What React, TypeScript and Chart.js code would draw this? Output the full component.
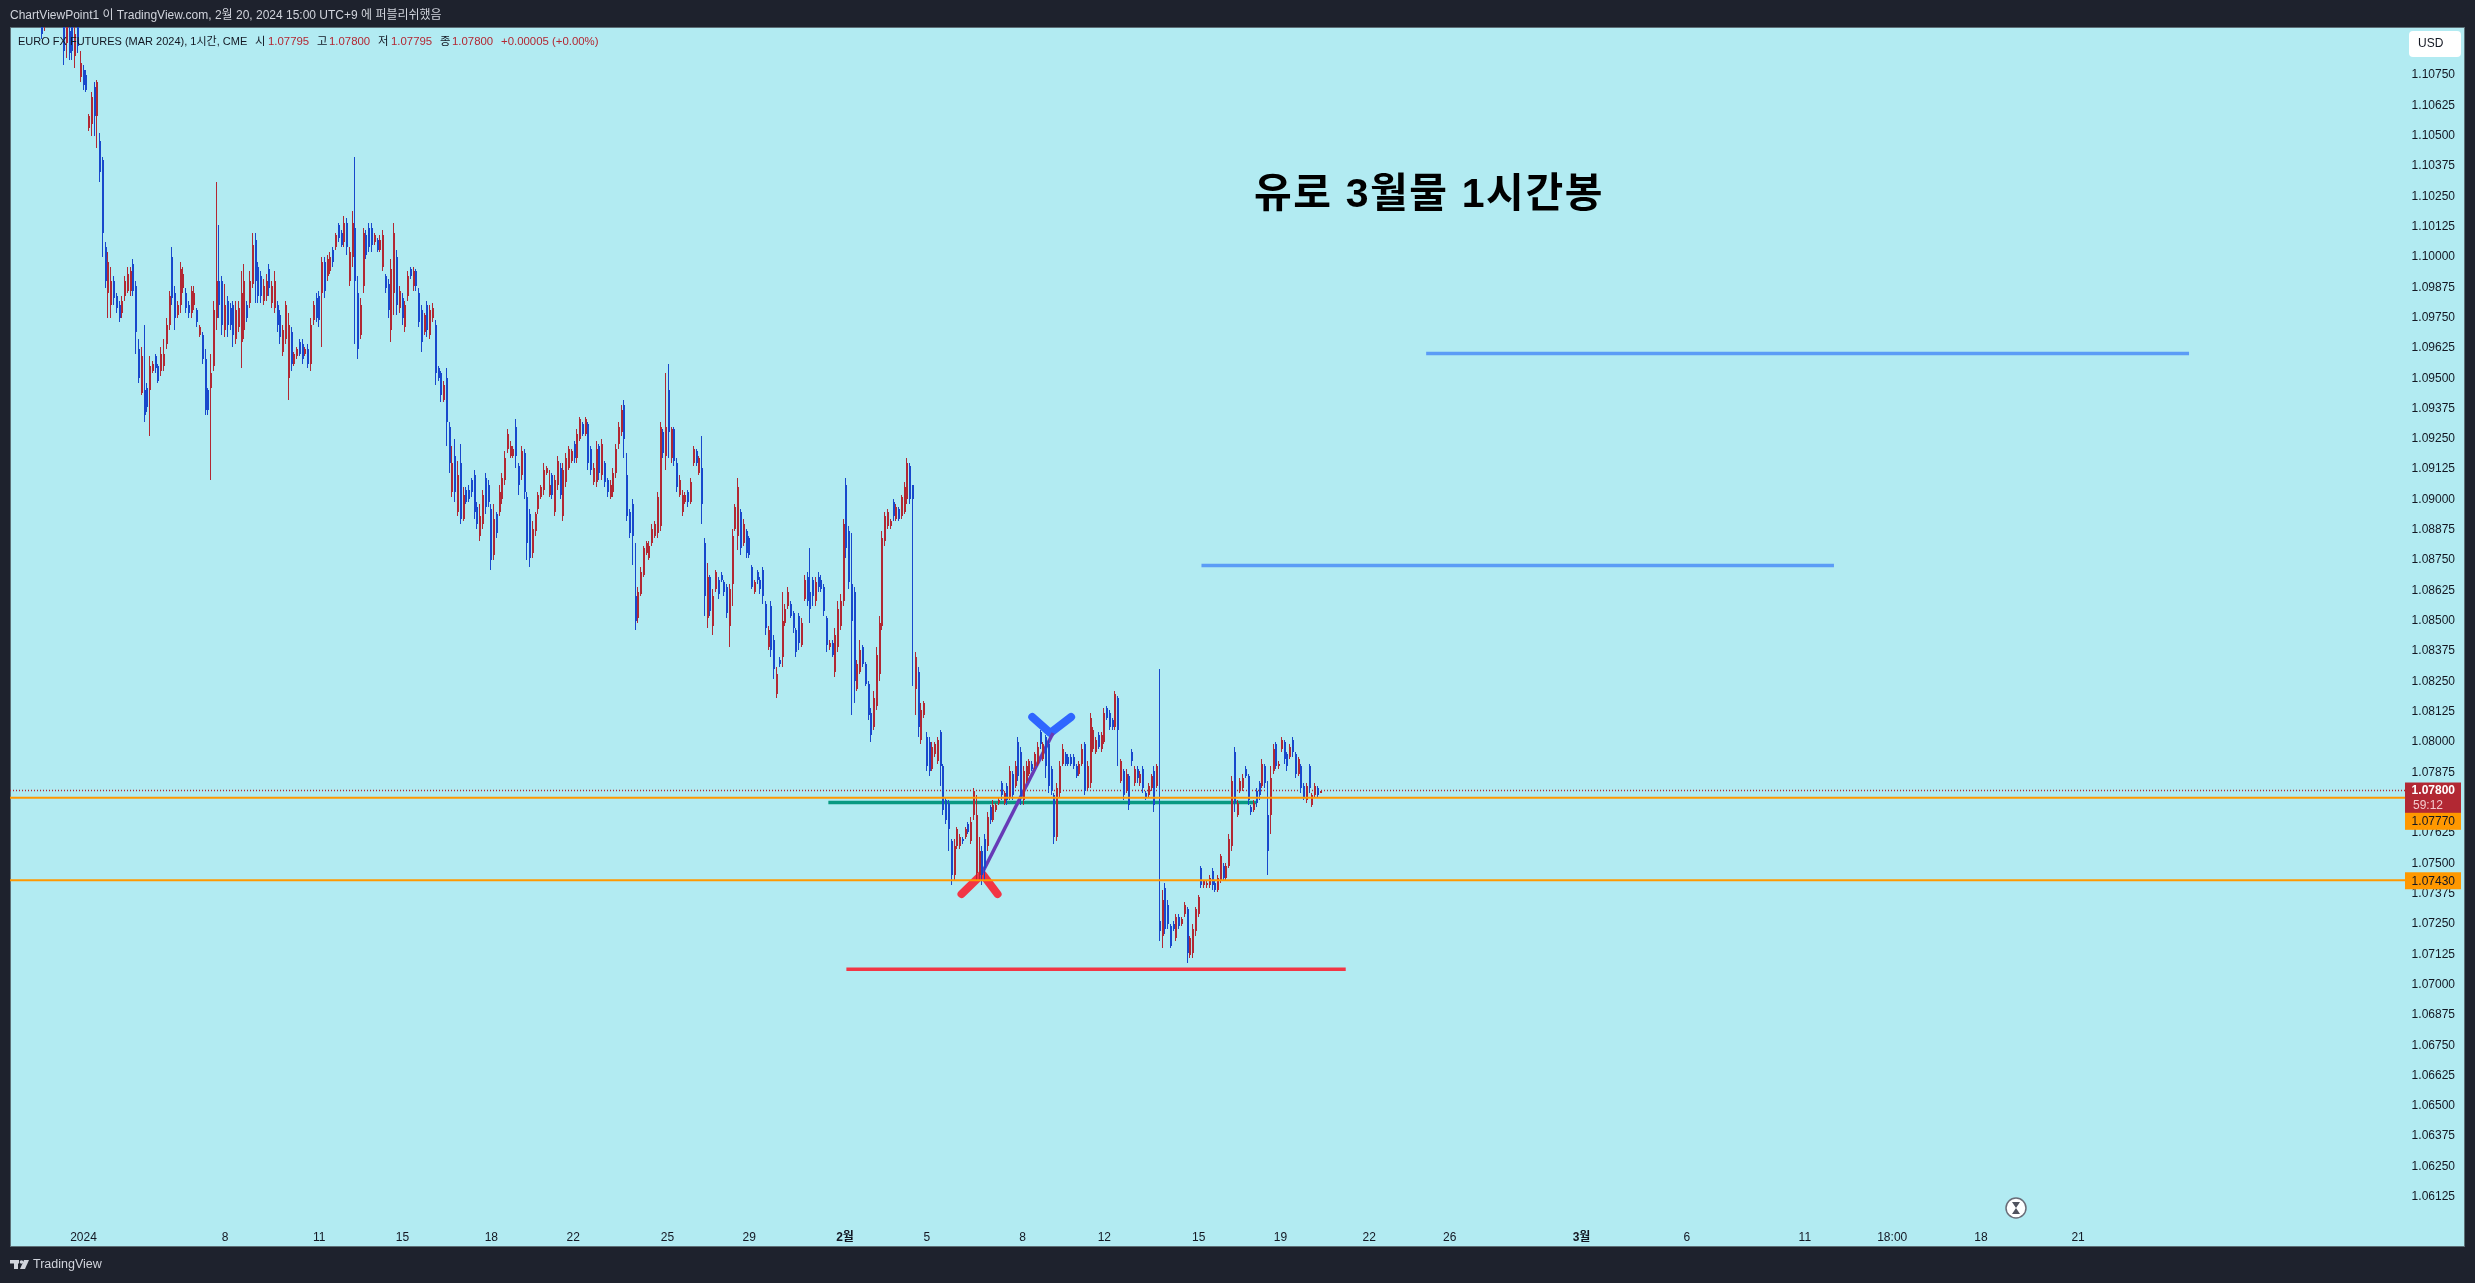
import React, { useEffect, useRef } from "react";
import { Chart, registerables } from "chart.js";

Chart.register(...registerables);

const highs = [
11120,11112,11125,11128,11130,11124,11122,11126,11115,11108,
11095,11100,11098,11104,11085,11079,11077,11059,11068,11072,
11073,11051,11041,11006,11002,10996,10992,10985,10982,10984,
10992,10996,10996,10999,10990,10966,10963,10972,10948,10959,
10957,10960,10956,10963,10966,10975,10986,11004,10988,10982,
10998,10996,10987,10982,10988,10988,10979,10972,10969,10962,
10946,10960,10982,11031,11013,10992,10989,10984,10981,10982,
10982,10982,10994,10997,10982,10994,11010,11010,10998,10994,
10991,10993,10997,10990,10994,10982,10978,10972,10982,10977,
10971,10961,10963,10966,10966,10963,10964,10975,10982,10985,
10986,11000,11000,11001,11002,11004,11010,11014,11011,11017,
11016,11004,11019,11041,10992,10983,11012,11011,11014,11014,
11010,11008,11009,11011,10993,10991,10999,11014,11003,10988,
10985,10982,10994,10996,10996,10995,10987,10980,10977,10982,
10980,10981,10974,10955,10953,10949,10954,10932,10922,10925,
10916,10923,10905,10905,10906,10909,10912,10899,10898,10904,
10911,10908,10898,10898,10895,10906,10911,10920,10929,10924,
10922,10933,10915,10922,10921,10903,10896,10891,10895,10903,
10906,10915,10914,10912,10911,10910,10918,10915,10915,10919,
10922,10921,10924,10929,10934,10932,10934,10932,10922,10915,
10924,10923,10925,10916,10909,10908,10913,10923,10932,10939,
10941,10919,10896,10900,10882,10864,10872,10881,10883,10883,
10890,10891,10903,10932,10929,10952,10956,10930,10930,10917,
10910,10904,10903,10904,10909,10922,10921,10918,10926,10884,
10874,10869,10863,10871,10868,10870,10867,10865,10865,10888,
10898,10909,10896,10892,10888,10885,10873,10867,10871,10868,
10872,10858,10848,10858,10844,10831,10835,10862,10857,10864,
10858,10854,10847,10853,10851,10869,10870,10880,10868,10868,
10870,10869,10865,10852,10842,10842,10847,10858,10861,10892,
10909,10889,10886,10864,10834,10842,10840,10833,10825,10814,
10821,10839,10852,10887,10895,10896,10892,10900,10898,10897,
10902,10907,10917,10915,10906,10837,10831,10816,10817,10804,
10802,10800,10800,10802,10805,10791,10777,10776,10760,10760,
10765,10762,10761,10765,10767,10769,10781,10778,10761,10757,
10762,10771,10774,10776,10775,10777,10784,10780,10783,10790,
10788,10792,10802,10798,10790,10792,10793,10792,10796,10800,
10805,10800,10803,10801,10790,10779,10783,10792,10799,10796,
10795,10795,10795,10791,10792,10799,10800,10792,10812,10806,
10802,10804,10804,10814,10815,10813,10810,10821,10819,10793,
10789,10789,10787,10797,10790,10790,10788,10790,10780,10783,
10787,10790,10791,10830,10739,10742,10735,10725,10726,10729,
10729,10728,10734,10732,10720,10725,10732,10737,10749,10743,
10743,10745,10748,10743,10745,10754,10750,10750,10762,10786,
10798,10776,10785,10787,10790,10787,10774,10776,10781,10784,
10793,10791,10784,10790,10799,10800,10792,10802,10801,10796,
10799,10802,10796,10794,10791,10783,10783,10791,10779,10783,
10782,10780];

const lows = [
11090,11093,11100,11102,11108,11100,11099,11098,11079,11082,
11081,11081,11078,11084,11072,11069,11068,11052,11050,11050,
11045,11031,11000,10987,10975,10975,10980,10977,10973,10975,
10982,10985,10984,10984,10960,10948,10943,10932,10936,10926,
10952,10952,10948,10951,10953,10962,10970,10980,10970,10975,
10977,10985,10977,10975,10975,10978,10971,10967,10956,10935,
10935,10908,10953,10970,10975,10968,10967,10967,10970,10963,
10964,10969,10954,10966,10973,10979,10987,10981,10981,10981,
10980,10982,10984,10979,10977,10969,10964,10959,10964,10941,
10953,10955,10958,10959,10956,10959,10954,10953,10972,10973,
10971,10963,10983,10990,10993,10996,11003,11006,11004,11004,
11001,10988,10996,10964,10958,10966,10985,10999,11002,11002,
11005,11002,11002,10994,10985,10975,10965,10976,10976,10977,
10972,10969,10982,10991,10986,10986,10971,10961,10968,10967,
10966,10973,10947,10949,10940,10940,10922,10911,10901,10899,
10893,10890,10891,10898,10899,10901,10892,10888,10883,10888,
10894,10897,10871,10875,10884,10893,10898,10906,10919,10917,
10917,10913,10902,10908,10900,10875,10872,10876,10885,10894,
10900,10902,10910,10901,10900,10893,10904,10900,10891,10905,
10912,10915,10915,10915,10924,10926,10926,10912,10910,10906,
10905,10908,10908,10905,10901,10900,10901,10909,10921,10926,
10917,10891,10884,10873,10846,10849,10860,10868,10877,10875,
10881,10884,10884,10887,10917,10912,10917,10915,10914,10903,
10901,10893,10898,10897,10898,10914,10914,10910,10890,10852,
10847,10852,10844,10862,10859,10866,10860,10851,10839,10856,
10887,10879,10877,10881,10876,10876,10863,10861,10865,10861,
10857,10844,10838,10835,10826,10818,10831,10831,10848,10855,
10851,10845,10835,10838,10839,10858,10856,10849,10856,10856,
10862,10862,10852,10837,10838,10835,10827,10837,10846,10856,
10876,10863,10811,10816,10821,10828,10831,10823,10809,10800,
10805,10813,10825,10846,10881,10888,10888,10891,10891,10891,
10892,10894,10898,10898,10823,10811,10802,10799,10810,10788,
10786,10788,10794,10791,10782,10770,10766,10755,10741,10743,
10756,10756,10758,10760,10762,10758,10768,10743,10743,10741,
10743,10755,10766,10767,10771,10774,10776,10774,10774,10776,
10776,10781,10784,10774,10774,10783,10786,10788,10789,10790,
10797,10792,10785,10779,10778,10758,10759,10777,10790,10790,
10790,10790,10789,10785,10786,10790,10778,10780,10781,10796,
10795,10797,10796,10799,10809,10805,10805,10805,10790,10783,
10776,10779,10772,10790,10782,10783,10782,10779,10776,10777,
10780,10771,10781,10718,10715,10721,10723,10715,10722,10718,
10723,10724,10728,10709,10711,10711,10720,10728,10740,10740,
10740,10740,10739,10738,10738,10742,10743,10743,10748,10755,
10771,10769,10779,10780,10785,10774,10770,10771,10773,10776,
10781,10781,10745,10762,10787,10789,10789,10796,10791,10788,
10793,10794,10785,10786,10779,10776,10775,10779,10773,10777,
10777,10779];

const opens = [
11110,11095,11118,11106,11126,11114,11101,11120,11105,11088,
11093,11095,11083,11098,11074,11077,11075,11053,11055,11070,
11058,11048,11040,11004,10985,10980,10990,10984,10980,10977,
10984,10986,10986,10997,10988,10962,10944,10945,10946,10945,
10953,10959,10955,10953,10955,10964,10972,11000,10985,10976,
10980,10987,10985,10980,10977,10980,10978,10968,10968,10958,
10945,10946,10955,10975,10990,10990,10970,10982,10979,10980,
10966,10971,10965,10970,10980,10981,10989,11007,10996,10992,
10982,10984,10995,10981,10979,10980,10976,10961,10966,10950,
10969,10956,10959,10965,10964,10960,10962,10956,10974,10983,
10984,10985,10998,10992,10994,11003,11004,11013,11010,11006,
11014,10990,11000,11012,10985,10968,10988,11009,11012,11012,
11006,11007,11003,10996,10992,10989,10970,10985,11000,10979,
10983,10971,10984,10995,10988,10994,10985,10978,10969,10980,
10968,10975,10972,10954,10952,10941,10950,10930,10903,10918,
10895,10915,10892,10904,10904,10908,10910,10897,10885,10890,
10909,10906,10896,10877,10894,10895,10900,10908,10921,10918,
10918,10930,10914,10910,10919,10901,10894,10878,10887,10896,
10901,10904,10911,10902,10910,10895,10906,10913,10893,10907,
10913,10916,10923,10917,10925,10931,10927,10931,10921,10907,
10907,10922,10910,10915,10908,10901,10903,10911,10923,10928,
10939,10910,10895,10898,10860,10851,10861,10869,10878,10876,
10882,10885,10886,10889,10928,10918,10945,10917,10929,10915,
10902,10895,10899,10903,10899,10915,10920,10911,10913,10882,
10851,10868,10848,10863,10867,10869,10866,10864,10848,10865,
10888,10885,10895,10882,10887,10884,10872,10862,10870,10867,
10871,10857,10839,10856,10842,10820,10834,10835,10849,10856,
10857,10853,10846,10852,10840,10859,10868,10862,10867,10858,
10868,10867,10864,10851,10839,10841,10829,10839,10848,10858,
10906,10887,10865,10862,10822,10829,10839,10832,10824,10812,
10806,10815,10828,10848,10883,10889,10889,10899,10892,10896,
10893,10895,10900,10914,10906,10822,10829,10801,10811,10802,
10800,10789,10795,10792,10804,10790,10776,10775,10759,10745,
10757,10757,10760,10761,10766,10759,10770,10746,10745,10755,
10760,10757,10773,10768,10772,10775,10783,10775,10782,10777,
10787,10782,10800,10796,10776,10784,10787,10791,10790,10791,
10804,10793,10802,10799,10789,10778,10761,10779,10791,10795,
10794,10794,10794,10790,10787,10791,10799,10781,10783,10797,
10796,10803,10797,10800,10814,10812,10809,10806,10818,10784,
10788,10780,10786,10796,10783,10789,10783,10789,10779,10778,
10781,10788,10782,10726,10720,10740,10733,10724,10725,10719,
10728,10725,10729,10731,10712,10713,10722,10729,10748,10741,
10741,10741,10747,10742,10739,10743,10749,10744,10749,10757,
10796,10770,10780,10781,10789,10786,10773,10772,10780,10783,
10782,10790,10770,10770,10788,10799,10790,10797,10800,10795,
10794,10801,10795,10787,10790,10782,10776,10790,10774,10778,
10781,10779];

const closes = [
11092,11105,11104,11122,11112,11103,11118,11100,11085,11100,
11084,11085,11092,11087,11080,11071,11069,11058,11066,11058,
11072,11035,11010,10990,10998,10990,10983,10979,10975,10982,
10990,10993,10994,10986,10969,10950,10959,10935,10938,10955,
10956,10954,10949,10960,10960,10972,10984,10983,10975,10980,
10995,10993,10979,10977,10986,10985,10973,10971,10958,10937,
10937,10952,10978,10990,10980,10972,10980,10972,10972,10968,
10978,10979,10985,10990,10975,10990,11005,10990,10984,10984,
10988,10990,10987,10988,10990,10972,10967,10970,10980,10972,
10956,10960,10962,10960,10958,10962,10956,10972,10980,10975,
10974,10998,10986,10999,11000,10998,11009,11008,11005,11014,
11004,11002,11014,10990,10962,10980,11010,11001,11004,11005,
11009,11003,11007,11009,10987,10978,10995,11010,10980,10986,
10975,10980,10992,10992,10994,10988,10973,10965,10976,10970,
10978,10979,10952,10950,10943,10947,10932,10915,10915,10903,
10910,10892,10902,10899,10900,10903,10895,10890,10893,10902,
10897,10899,10875,10892,10886,10903,10909,10917,10927,10922,
10921,10918,10906,10920,10903,10882,10876,10888,10894,10902,
10905,10912,10913,10906,10902,10908,10916,10902,10912,10917,
10921,10920,10917,10927,10933,10927,10933,10915,10912,10913,
10921,10911,10923,10907,10903,10906,10911,10921,10930,10937,
10925,10893,10886,10885,10850,10862,10870,10880,10882,10881,
10888,10890,10901,10930,10919,10930,10928,10929,10916,10905,
10908,10902,10902,10899,10907,10921,10915,10917,10898,10860,
10868,10854,10860,10870,10861,10867,10862,10853,10863,10885,
10897,10905,10880,10890,10878,10877,10864,10866,10867,10863,
10860,10847,10846,10838,10830,10828,10832,10850,10855,10862,
10852,10847,10837,10841,10849,10867,10858,10855,10860,10866,
10864,10863,10854,10840,10841,10836,10844,10855,10858,10890,
10880,10866,10850,10825,10832,10838,10832,10824,10811,10803,
10818,10836,10849,10884,10893,10895,10891,10893,10897,10892,
10901,10905,10915,10900,10900,10835,10806,10813,10816,10790,
10788,10798,10799,10801,10790,10772,10768,10764,10745,10757,
10764,10761,10759,10764,10763,10767,10780,10770,10755,10745,
10748,10769,10768,10774,10774,10776,10778,10779,10776,10788,
10778,10790,10786,10777,10788,10790,10792,10789,10795,10798,
10799,10799,10790,10782,10780,10761,10781,10790,10797,10791,
10791,10791,10790,10786,10791,10797,10780,10790,10810,10805,
10801,10798,10803,10812,10810,10806,10806,10820,10805,10792,
10778,10787,10774,10792,10789,10785,10787,10781,10777,10782,
10786,10774,10790,10722,10735,10723,10725,10716,10723,10728,
10724,10727,10733,10713,10719,10723,10731,10736,10741,10743,
10742,10744,10741,10739,10744,10753,10744,10749,10760,10784,
10775,10775,10784,10785,10786,10776,10771,10775,10775,10778,
10791,10783,10755,10785,10797,10790,10791,10801,10793,10790,
10798,10796,10787,10793,10781,10777,10782,10781,10778,10782,
10778,10780];

const hoursPerCandle = 2;

const timeTickHours = [30,132,200,260,324,383,451,510,579,638,707,766,834,893,957,1015,1110,1186,1271,1334,1398,1468];
const timeTickLabels = ["2024","8","11","15","18","22","25","29","2월","5","8","12","15","19","22","26","3월","6","11","18:00","18","21"];

const priceTicks = [
1.1075,1.10625,1.105,1.10375,1.1025,1.10125,1.1,1.09875,1.0975,1.09625,
1.095,1.09375,1.0925,1.09125,1.09,1.08875,1.0875,1.08625,1.085,1.08375,
1.0825,1.08125,1.08,1.07875,1.0775,1.07625,1.075,1.07375,1.0725,1.07125,
1.07,1.06875,1.0675,1.06625,1.065,1.06375,1.0625,1.06125];

const hourMin = -23;
const hourMax = 1703.7;
const priceMax = 1.10948;
const priceMin = 1.06021;

const lastPrice = 1.078;
const levelUpper = 1.0777;
const levelLower = 1.0743;
const greenHours = [567, 876];
const greenPrice = 1.07751;
const redHours = [580, 940];
const redPrice = 1.07063;
const upperTargetHours = [998, 1548];
const upperTargetPrice = 1.09602;
const lowerTargetHours = [836, 1292];
const lowerTargetPrice = 1.08728;
const redMarkHours = [663, 678, 689];
const redMarkPrices = [1.07373, 1.07456, 1.07373];
const blueMarkHours = [714, 727, 742];
const blueMarkPrices = [1.08103, 1.08037, 1.08103];
const swingHours = [678, 729];
const swingPrices = [1.07461, 1.08037];

const titleText = "유로 3월물 1시간봉";
const headerText = "ChartViewPoint1 이 TradingView.com, 2월 20, 2024 15:00 UTC+9 에 퍼블리쉬했음";
const symbolText = "EURO FX FUTURES (MAR 2024), 1시간, CME";
const ohlcLegend = [
  ["시", "1.07795", 255, 268],
  ["고", "1.07800", 317, 329],
  ["저", "1.07795", 378, 391],
  ["종", "1.07800", 440, 452],
] as const;
const changeText = "+0.00005 (+0.00%)";

const SANS = '"Liberation Sans","Noto Sans CJK KR",sans-serif';
const DARK = "#1e222d";
const PANE = "#b2ebf2";
const UP = "#b22833";
const DOWN = "#1848cc";
const ORANGE = "#ff9800";
const INK = "#131722";

const seg = (xs: number[], ys: number[]) => xs.map((x, i) => ({ x, y: ys[i] }));
const flat = (xs: number[], y: number) => xs.map((x) => ({ x, y }));

const decorPlugin = {
  id: "decor",
  beforeDraw(chart: any) {
    const { ctx } = chart;
    ctx.save();
    ctx.fillStyle = DARK;
    ctx.fillRect(0, 0, 2475, 1283);
    ctx.fillStyle = PANE;
    ctx.fillRect(10, 27, 2455, 1220);
    ctx.strokeStyle = "#5d6f76";
    ctx.lineWidth = 1;
    ctx.strokeRect(10.5, 27.5, 2454, 1219);
    ctx.restore();
  },
  // keep candles on whole device pixels, as the chart's renderer does
  beforeDatasetDraw(chart: any, args: any) {
    const label = chart.data.datasets[args.index].label;
    if (label !== "wick" && label !== "body") return;
    args.meta.data.forEach((el: any) => {
      const cx = Math.round(el.x);
      el.x = label === "wick" ? cx - 0.5 : cx;
      el.width = label === "wick" ? 1 : 2;
      const top = Math.round(Math.min(el.y, el.base));
      const bot = Math.round(Math.max(el.y, el.base));
      el.y = top;
      el.base = bot === top ? top + 1 : bot;
      el.height = el.base - el.y;
    });
  },
  afterDraw(chart: any) {
    const { ctx, scales } = chart;
    const y = scales.y;
    ctx.save();
    ctx.textBaseline = "middle";
    ctx.textAlign = "left";

    ctx.font = `12px ${SANS}`;
    ctx.fillStyle = "#d1d4dc";
    ctx.fillText(headerText, 10, 15.5);

    ctx.font = `11px ${SANS}`;
    ctx.fillStyle = INK;
    ctx.fillText(symbolText, 18, 42);
    ctx.font = `11.4px ${SANS}`;
    ohlcLegend.forEach(([k, v, kx, vx]) => {
      ctx.fillStyle = INK;
      ctx.fillText(k, kx, 42);
      ctx.fillStyle = UP;
      ctx.fillText(v, vx, 42);
    });
    ctx.fillStyle = UP;
    ctx.fillText(changeText, 501, 42);

    ctx.font = `bold 41px ${SANS}`;
    (ctx as any).letterSpacing = "1.6px";
    ctx.fillStyle = "#000000";
    ctx.fillText(titleText, 1254, 196);
    (ctx as any).letterSpacing = "0px";

    // currency chip
    ctx.fillStyle = "#ffffff";
    ctx.beginPath();
    ctx.roundRect(2409, 31, 52, 26, 4);
    ctx.fill();
    ctx.font = `12px ${SANS}`;
    ctx.fillStyle = INK;
    ctx.fillText("USD", 2418, 44);

    // price labels
    const yLast = y.getPixelForValue(lastPrice);
    ctx.fillStyle = UP;
    ctx.fillRect(2405, yLast - 8, 56, 31);
    ctx.textAlign = "right";
    ctx.fillStyle = "#ffffff";
    ctx.font = `bold 12px ${SANS}`;
    ctx.fillText("1.07800", 2455, yLast + 0.5);
    ctx.font = `12px ${SANS}`;
    ctx.fillStyle = "#f3c9cc";
    ctx.textAlign = "left";
    ctx.fillText("59:12", 2413, yLast + 15);
    ctx.textAlign = "right";
    const yUp = y.getPixelForValue(levelUpper);
    ctx.fillStyle = ORANGE;
    ctx.fillRect(2405, yUp + 15, 56, 17);
    ctx.fillStyle = INK;
    ctx.fillText(levelUpper.toFixed(5), 2455, yUp + 24);
    const yLow = y.getPixelForValue(levelLower);
    ctx.fillStyle = ORANGE;
    ctx.fillRect(2405, yLow - 8, 56, 17);
    ctx.fillStyle = INK;
    ctx.fillText(levelLower.toFixed(5), 2455, yLow + 1);

    // hourglass badge
    ctx.beginPath();
    ctx.arc(2016, 1208, 10, 0, Math.PI * 2);
    ctx.fillStyle = "#ffffff";
    ctx.fill();
    ctx.strokeStyle = "#6a6d78";
    ctx.lineWidth = 1.5;
    ctx.stroke();
    ctx.fillStyle = "#50535e";
    ctx.beginPath();
    ctx.moveTo(2012, 1202); ctx.lineTo(2020, 1202); ctx.lineTo(2016, 1208); ctx.closePath();
    ctx.moveTo(2016, 1208); ctx.lineTo(2020, 1214); ctx.lineTo(2012, 1214); ctx.closePath();
    ctx.fill();

    // footer wordmark
    ctx.fillStyle = "#d1d4dc";
    ctx.fillRect(10, 1260, 9, 3.5);
    ctx.fillRect(14, 1260, 4, 9);
    ctx.beginPath();
    ctx.arc(21.5, 1262, 1.8, 0, Math.PI * 2);
    ctx.fill();
    ctx.beginPath();
    ctx.moveTo(24, 1260); ctx.lineTo(29, 1260); ctx.lineTo(25, 1269); ctx.lineTo(20, 1269); ctx.closePath();
    ctx.fill();
    ctx.textAlign = "left";
    ctx.font = `12.5px ${SANS}`;
    ctx.fillText("TradingView", 33, 1265);
    ctx.restore();
  },
};

export default function App() {
  const ref = useRef<HTMLCanvasElement | null>(null);
  useEffect(() => {
    document.body.style.margin = "0";
    document.body.style.background = DARK;
    const candleHours = highs.map((_, i) => i * hoursPerCandle);
    const colors = closes.map((c, i) => (c >= opens[i] ? UP : DOWN));
    const lineBase = { type: "line" as const, pointRadius: 0, tension: 0, fill: false };
    const chart = new Chart(ref.current as HTMLCanvasElement, {
      type: "bar",
      data: {
        datasets: [
          { ...lineBase, label: "last", data: flat([hourMin, hourMax], lastPrice), borderColor: UP, borderWidth: 1.3, borderDash: [1, 2], order: 6 },
          { ...lineBase, label: "green", data: flat(greenHours, greenPrice), borderColor: "#089981", borderWidth: 3.5, order: 4 },
          { ...lineBase, label: "red", data: flat(redHours, redPrice), borderColor: "#f23645", borderWidth: 3.5, order: 4 },
          { ...lineBase, label: "upperTarget", data: flat(upperTargetHours, upperTargetPrice), borderColor: "#5b9cf6", borderWidth: 3.5, order: 4 },
          { ...lineBase, label: "lowerTarget", data: flat(lowerTargetHours, lowerTargetPrice), borderColor: "#5b9cf6", borderWidth: 3.5, order: 4 },
          { ...lineBase, label: "redMark", data: seg(redMarkHours, redMarkPrices), borderColor: "#f23645", borderWidth: 8, borderCapStyle: "round", borderJoinStyle: "round", order: 4 },
          { ...lineBase, label: "blueMark", data: seg(blueMarkHours, blueMarkPrices), borderColor: "#2f66ff", borderWidth: 8, borderCapStyle: "round", borderJoinStyle: "round", order: 4 },
          { ...lineBase, label: "swing", data: seg(swingHours, swingPrices), borderColor: "#673ab7", borderWidth: 3.5, order: 3 },
          {
            type: "bar", label: "wick", order: 2, grouped: false, barThickness: 1, inflateAmount: 0, borderWidth: 0,
            backgroundColor: colors,
            data: candleHours.map((x, i) => ({ x, y: [lows[i] / 1e4, highs[i] / 1e4] })),
          },
          {
            type: "bar", label: "body", order: 1, grouped: false, barThickness: 2, inflateAmount: 0, borderWidth: 0,
            backgroundColor: colors,
            data: candleHours.map((x, i) => ({ x, y: [opens[i] / 1e4, closes[i] / 1e4] })),
          },
          { ...lineBase, label: "levelUpper", data: flat([hourMin, hourMax], levelUpper), borderColor: ORANGE, borderWidth: 2, order: 0 },
          { ...lineBase, label: "levelLower", data: flat([hourMin, hourMax], levelLower), borderColor: ORANGE, borderWidth: 2, order: 0 },
        ] as any,
      },
      options: {
        animation: false,
        responsive: false,
        devicePixelRatio: 1,
        layout: { padding: { left: 10, top: 27, right: 20, bottom: 36 } },
        plugins: { legend: { display: false }, tooltip: { enabled: false } },
        scales: {
          x: {
            type: "linear",
            offset: false,
            min: hourMin,
            max: hourMax,
            grid: { display: false },
            border: { display: false },
            afterBuildTicks: (s: any) => { s.ticks = timeTickHours.map((value) => ({ value })); },
            afterFit: (s: any) => { s.height = 25; },
            ticks: {
              autoSkip: false,
              maxRotation: 0,
              padding: 0,
              color: INK,
              font: (c: any) => ({
                family: SANS, size: 12,
                weight: /월/.test(timeTickLabels[timeTickHours.indexOf(c.tick?.value)] || "") ? "bold" : "normal",
              }),
              callback: (v: any) => timeTickLabels[timeTickHours.indexOf(v)] ?? "",
            },
          },
          y: {
            type: "linear",
            position: "right",
            min: priceMin,
            max: priceMax,
            grid: { display: false },
            border: { display: false },
            afterBuildTicks: (s: any) => { s.ticks = priceTicks.map((value) => ({ value })); },
            afterFit: (s: any) => { s.width = 50; },
            ticks: {
              autoSkip: false,
              crossAlign: "far",
              color: INK,
              font: { family: SANS, size: 12 },
              callback: (v: any) => Number(v).toFixed(5),
            },
          },
        },
      } as any,
      plugins: [decorPlugin],
    } as any);
    return () => chart.destroy();
  }, []);
  return (
    <div style={{ position: "absolute", left: 0, top: 0, width: 2475, height: 1283 }}>
      <canvas ref={ref} width={2475} height={1283} style={{ display: "block", width: 2475, height: 1283 }} />
    </div>
  );
}
